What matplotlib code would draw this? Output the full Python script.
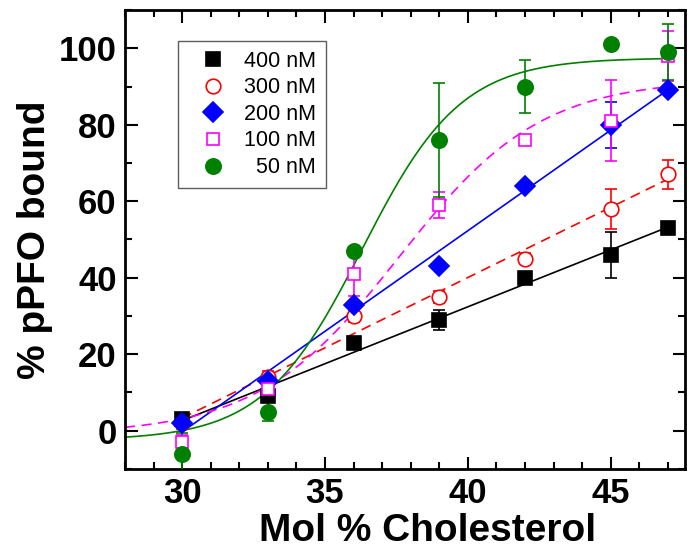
import numpy as np
import matplotlib
matplotlib.use("Agg")
import matplotlib.pyplot as plt
from matplotlib.lines import Line2D

plt.rcParams["font.family"] = ["Liberation Sans", "DejaVu Sans"]

# mol % cholesterol
chol = [30, 33, 36, 39, 42, 45, 47]

# % pPFO bound, one series per toxin concentration (value, error)
bound_400 = [3, 9, 23, 29, 40, 46, 53]
err_400 = [1.0, 4.0, 0.0, 2.6, 0.0, 6.0, 0.0]
bound_300 = [2, 14, 30, 35, 45, 58, 67]
err_300 = [1.5, 1.5, 1.5, 1.5, 1.5, 5.2, 3.8]
bound_200 = [2, 13, 33, 43, 64, 80, 89]
err_200 = [1.0, 1.0, 1.0, 0.0, 0.0, 6.0, 1.0]
bound_100 = [-3, 11, 41, 59, 76, 81, 98]
err_100 = [2.0, 3.0, 5.7, 3.5, 1.0, 10.6, 6.5]
bound_50 = [-6, 5, 47, 76, 90, 101, 99]
err_50 = [5.5, 2.5, 1.0, 15.0, 7.0, 0.0, 7.3]

# Boltzmann fit parameters (bottom, top, x0, dx) for the two sigmoid fits
fit_100 = (-1.0, 92.0, 37.6, 2.48)
fit_50 = (-2.5, 97.5, 36.3, 1.73)

labels = ["400 nM", "300 nM", "200 nM", "100 nM", "  50 nM"]


def boltzmann(x, p):
    a1, a2, x0, dx = p
    return a2 + (a1 - a2) / (1 + np.exp((x - x0) / dx))


fig = plt.figure(figsize=(6.89, 5.56), dpi=100)
ax = fig.add_axes([0.1814, 0.1565, 0.8128, 0.8255])

xs_lin = np.linspace(30, 47, 100)
xs_sig = np.linspace(28, 47, 300)

# fit lines
for y, col, ls in [(bound_400, "black", "-"), (bound_300, "red", (0, (6, 4))),
                   (bound_200, "blue", "-")]:
    k, b = np.polyfit(chol, y, 1)
    ax.plot(xs_lin, k * xs_lin + b, color=col, lw=1.2, ls=ls, zorder=2)
ax.plot(xs_sig, boltzmann(xs_sig, fit_100), color="magenta", lw=1.2, ls=(0, (6, 4)), zorder=2)
ax.plot(xs_sig, boltzmann(xs_sig, fit_50), color="green", lw=1.2, zorder=2)

# data points
series = [
    (bound_400, err_400, "black", "s", 9.5, "black"),
    (bound_300, err_300, "red", "o", 10.5, "white"),
    (bound_200, err_200, "blue", "D", 10.0, "blue"),
    (bound_100, err_100, "magenta", "s", 9.0, "white"),
    (bound_50, err_50, "green", "o", 11.0, "green"),
]
handles = []
for (y, e, col, mk, ms, fc), lab in zip(series, labels):
    ax.errorbar(chol, y, yerr=e, fmt=mk, ms=ms, mfc=fc, mec=col, mew=1.2,
                ecolor=col, elinewidth=1.2, capsize=4.5, capthick=1.2, zorder=3)
    handles.append(Line2D([], [], ls="none", marker=mk, ms=ms, mfc=fc, mec=col,
                          mew=1.2, label=lab))

leg = ax.legend(handles=handles, loc="upper left", bbox_to_anchor=(0.094, 0.9325),
                frameon=True, fancybox=False, edgecolor="#333333", fontsize=15.5,
                handletextpad=0.25, labelspacing=0.26, borderpad=0.45,
                handlelength=2.4, borderaxespad=0)
leg.get_frame().set_linewidth(1.0)

ax.set_xlim(28, 47.6)
ax.set_ylim(-10, 110)
ax.set_xticks([30, 35, 40, 45])
ax.set_xticks(np.arange(28, 48, 1), minor=True)
ax.set_yticks([0, 20, 40, 60, 80, 100])
ax.set_yticks(np.arange(-10, 111, 10), minor=True)
ax.tick_params(which="both", direction="in", top=True, right=True, width=1.5)
ax.tick_params(which="major", length=9, labelsize=25, pad=6)
ax.tick_params(which="minor", length=5)
for t in ax.get_xticklabels() + ax.get_yticklabels():
    t.set_fontweight("bold")
for s in ax.spines.values():
    s.set_linewidth(2)

ax.set_xlabel("Mol % Cholesterol", fontsize=28, fontweight="bold")
ax.xaxis.set_label_coords(0.541, -0.095)
ax.set_ylabel("% pPFO bound", fontsize=28, fontweight="bold", labelpad=4)

fig.savefig("out.png", dpi=100)
